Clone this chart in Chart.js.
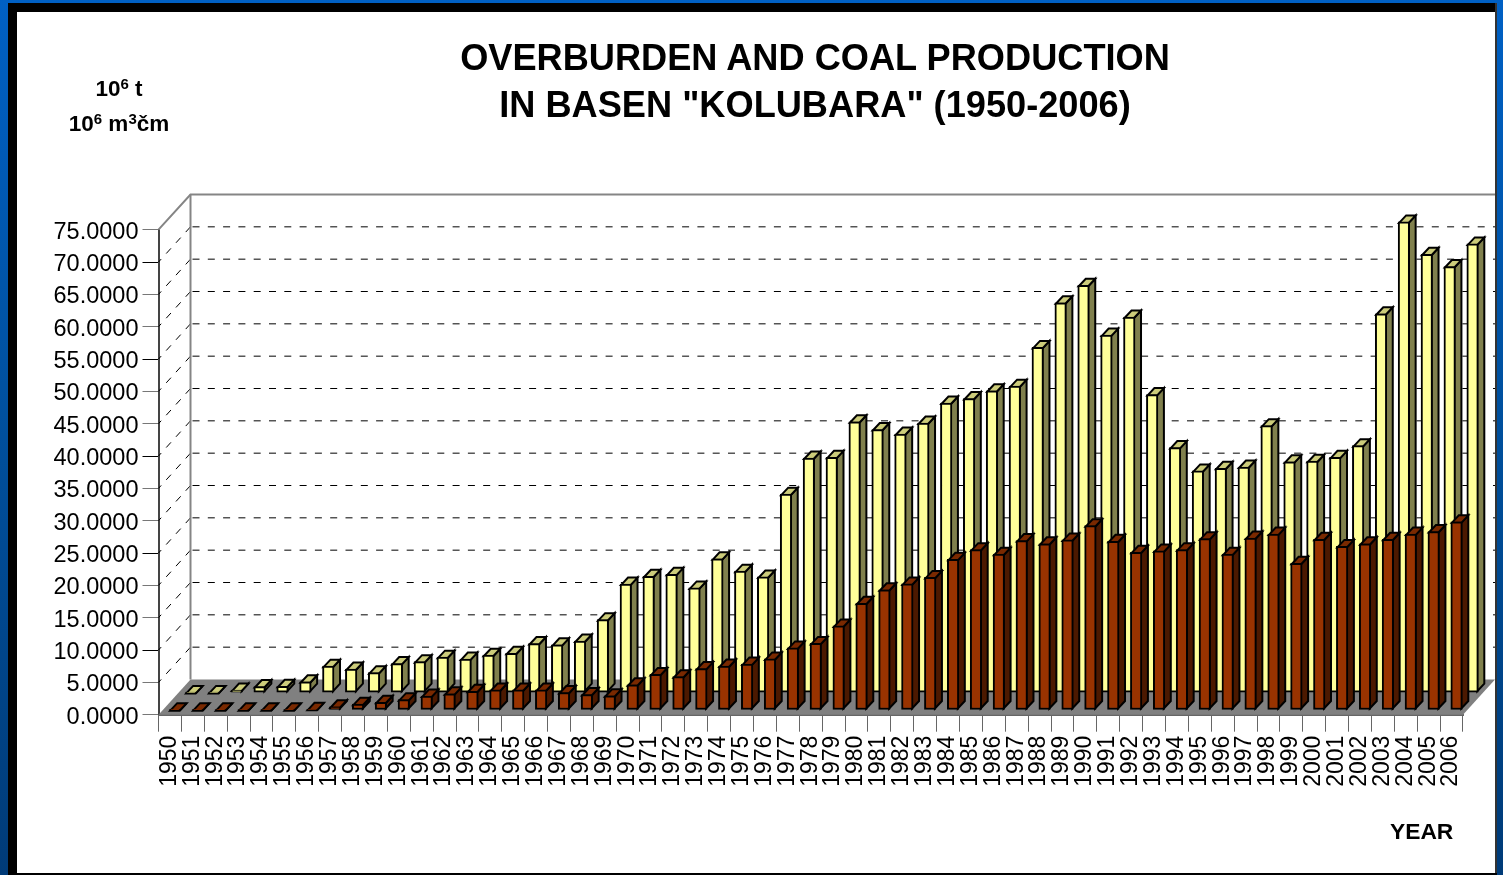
<!DOCTYPE html>
<html>
<head>
<meta charset="utf-8">
<title>Overburden and coal production</title>
<script src="https://cdn.jsdelivr.net/npm/chart.js@4"></script>
<style>
html,body{margin:0;padding:0;width:1503px;height:875px;overflow:hidden;background:linear-gradient(180deg,#0060c4 0%,#004f9c 50%,#003b78 100%);font-family:"Liberation Sans",Arial,sans-serif;}
#panel{position:absolute;left:8px;top:3px;width:1487px;height:870px;box-sizing:border-box;background:#fff;border-left:9px solid #000;border-top:9px solid #000;}
#rightLine{position:absolute;left:1495px;top:3px;width:1.5px;height:872px;background:#333;}
#bottomLine{position:absolute;left:8px;top:873px;width:1489px;height:2px;background:#000;}
canvas{position:absolute;left:0;top:0;}
.t{position:absolute;color:#000;font-weight:bold;white-space:nowrap;text-align:center;}
#title{left:415px;width:800px;top:34px;font-size:36.2px;line-height:47px;}
#u1,#u2{font-size:22.5px;line-height:24px;left:18px;width:202px;}
#u1{top:77px}#u2{top:112px}
sup{font-size:15px;line-height:0;vertical-align:7px;}
#year{left:1390px;top:818px;font-size:22.8px;line-height:26px;}
</style>
</head>
<body>
<div id="panel"></div><div id="rightLine"></div><div id="bottomLine"></div>
<canvas id="c" width="1503" height="875"></canvas>
<div class="t" id="title">OVERBURDEN AND COAL PRODUCTION<br>IN BASEN "KOLUBARA" (1950-2006)</div>
<div class="t" id="u1">10<sup>6</sup> t</div>
<div class="t" id="u2">10<sup>6</sup> m<sup>3</sup>čm</div>
<div class="t" id="year">YEAR</div>
<script>
const years = ["1950","1951","1952","1953","1954","1955","1956","1957","1958","1959","1960","1961","1962","1963","1964","1965","1966","1967","1968","1969","1970","1971","1972","1973","1974","1975","1976","1977","1978","1979","1980","1981","1982","1983","1984","1985","1986","1987","1988","1989","1990","1991","1992","1993","1994","1995","1996","1997","1998","1999","2000","2001","2002","2003","2004","2005","2006"];
const overburden = [0.05,0.05,0.4,0.95,1.0,1.7,4.1,3.66,3.1,4.5,4.8,5.5,5.2,5.8,6.1,7.6,7.4,8.0,11.3,16.8,18.0,18.3,16.2,20.7,18.8,17.9,30.7,36.3,36.4,41.9,40.7,40.0,41.7,44.8,45.5,46.7,47.4,53.4,60.3,63.0,55.3,58.1,46.1,37.9,34.3,34.7,34.9,41.3,35.7,35.8,36.4,38.2,58.6,72.8,67.8,65.9,69.4];
const coal = [0.05,0.05,0.05,0.05,0.05,0.05,0.1,0.5,0.9,1.2,1.6,2.15,2.5,2.9,3.1,3.1,3.1,2.7,2.4,2.2,3.9,5.5,5.15,6.4,6.8,7.1,7.9,9.6,10.3,13.0,16.5,18.6,19.5,20.5,23.3,24.8,24.1,26.2,25.7,26.3,28.5,26.1,24.4,24.6,24.8,26.5,24.1,26.6,27.2,22.7,26.4,25.3,25.7,26.4,27.2,27.6,29.1];
const yMax = 75, yStep = 5;

const chartLeft = 158.5, chartRight = 1463, chartTop = 229.7, chartBottom = 714.7;
const wallDx = 32, wallDy = 35.2, wallRight = 1495;
const barDepthX = 7, barDepthY = 7.5;

const faces = [
  {shift:[5,-4.7],  side:"#4C1900", top:"#7A2900"},
  {shift:[21,-22],  side:"#80804D", top:"#CCCC7A"}
];

const box3d = {
  id:"box3d",
  beforeDatasetsDraw(chart){
    const c = chart.ctx, y = chart.scales.y, a = chart.chartArea;
    const L = a.left, R = a.right, B = a.bottom, W = L + wallDx;
    c.save();
    c.fillStyle = "#808080";
    c.beginPath(); c.moveTo(L,B); c.lineTo(W,B-wallDy); c.lineTo(wallRight,B-wallDy); c.lineTo(R,B); c.closePath(); c.fill();
    c.strokeStyle = "#000"; c.lineWidth = 1;
    for (let v = yStep; v < yMax; v += yStep){
      const p = y.getPixelForValue(v);
      c.setLineDash([7,8.3]);
      c.lineDashOffset = -2;
      c.beginPath(); c.moveTo(W,p-wallDy); c.lineTo(wallRight,p-wallDy); c.stroke();
      c.setLineDash([7,7.5]);
      c.lineDashOffset = 3;
      c.beginPath(); c.moveTo(L,p); c.lineTo(W,p-wallDy); c.stroke();
    }
    c.setLineDash([]);
    const T = y.getPixelForValue(yMax);
    c.strokeStyle = "#858585"; c.lineWidth = 2;
    c.beginPath(); c.moveTo(L,T); c.lineTo(W,T-wallDy); c.lineTo(wallRight,T-wallDy); c.stroke();
    c.beginPath(); c.moveTo(W,T-wallDy); c.lineTo(W,B-wallDy); c.stroke();
    c.restore();
  },
  beforeDatasetDraw(chart,args){
    const c = chart.ctx, f = faces[args.index];
    c.save();
    c.translate(f.shift[0],f.shift[1]);
    c.strokeStyle = "#000"; c.lineWidth = 2; c.lineJoin = "miter";
    args.meta.data.forEach(bar=>{
      const p = bar.getProps(["x","y","base","width"],true);
      const l = p.x-p.width/2+1, r = p.x+p.width/2-1, t = p.y+1, b = Math.max(p.base-1,t);
      c.fillStyle = f.side;
      c.beginPath(); c.moveTo(r,t); c.lineTo(r+barDepthX,t-barDepthY); c.lineTo(r+barDepthX,b-barDepthY); c.lineTo(r,b); c.closePath(); c.fill(); c.stroke();
      c.fillStyle = f.top;
      c.beginPath(); c.moveTo(l,t); c.lineTo(l+barDepthX,t-barDepthY); c.lineTo(r+barDepthX,t-barDepthY); c.lineTo(r,t); c.closePath(); c.fill(); c.stroke();
    });
  },
  afterDatasetDraw(chart){ chart.ctx.restore(); }
};

new Chart(document.getElementById("c"),{
  type:"bar",
  plugins:[box3d],
  data:{labels:years,datasets:[
    {label:"Coal",data:coal,order:0,backgroundColor:"#993300",borderColor:"#000",borderWidth:2,borderSkipped:false,barThickness:11.5,clip:false,grouped:false},
    {label:"Overburden",data:overburden,order:1,backgroundColor:"#FFFF99",borderColor:"#000",borderWidth:2,borderSkipped:false,barThickness:11.5,clip:false,grouped:false}
  ]},
  options:{
    responsive:false,animation:false,
    layout:{padding:{left:0,top:chartTop,right:1503-chartRight,bottom:0}},
    plugins:{legend:{display:false},tooltip:{enabled:false},title:{display:false}},
    scales:{
      x:{
        afterFit(s){s.height=875-chartBottom;},
        grid:{drawOnChartArea:false,tickLength:17,color:"#666",offset:true},
        border:{color:"#666",width:2},
        ticks:{autoSkip:false,minRotation:90,maxRotation:90,padding:4,color:"#000",font:{family:"Liberation Sans",size:23},labelOffset:-0.5}
      },
      y:{
        min:0,max:yMax,
        afterFit(s){s.width=chartLeft;},
        grid:{drawOnChartArea:false,tickLength:16,color:c=>((yMax-c.tick.value)/yStep)%3===1?"#000":"#777"},
        border:{color:"#444",width:2},
        ticks:{stepSize:yStep,padding:4,color:"#000",font:{family:"Liberation Sans",size:23.5},labelOffset:2.5,callback:v=>v.toFixed(4)}
      }
    }
  }
});
</script>
</body>
</html>
